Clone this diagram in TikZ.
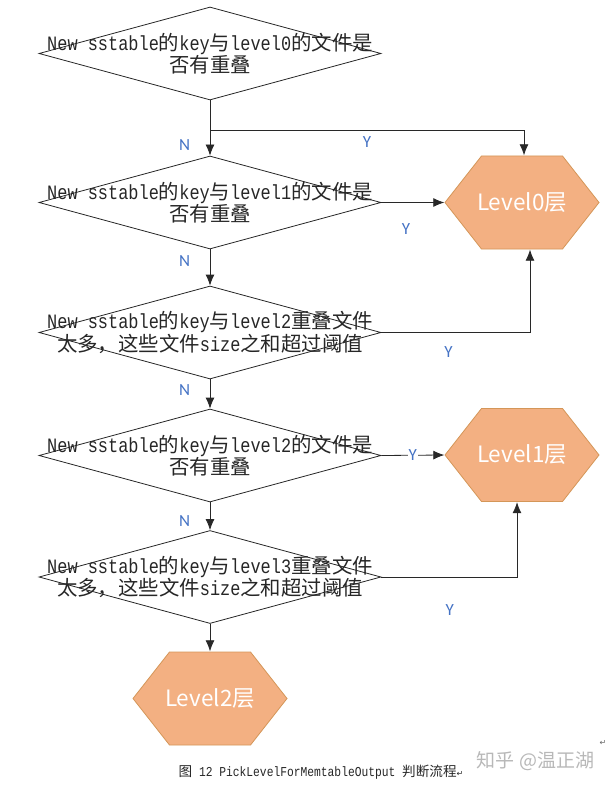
\documentclass[tikz,border=0pt]{standalone}
\usepackage{fontspec}
\usetikzlibrary{shapes.geometric,arrows.meta}
\newfontfamily\boxfont{Liberation Mono}[FakeStretch=0.83]
\newfontfamily\cjkfont{Noto Sans CJK SC}
\newfontfamily\ynfont{Carlito}
\newfontfamily\symfont{DejaVu Sans}
\newcommand{\zhs}[1]{{\cjkfont #1}}
\definecolor{linegray}{RGB}{40,40,40}
\definecolor{hexfill}{RGB}{243,176,130}
\definecolor{hexedge}{RGB}{212,150,88}
\definecolor{ynblue}{RGB}{68,114,196}
\tikzset{
	decision/.style={diamond,draw=black!85,line width=0.8pt,minimum width=342pt,minimum height=93pt,inner sep=0pt},
	boxtext/.style={align=center,inner sep=0pt,text=black!85,font=\boxfont\fontsize{20.4}{21}\selectfont},
	hexa/.style={minimum width=155pt,minimum height=94pt,inner sep=0pt,text=white,
		font=\cjkfont\fontsize{22.5}{26}\selectfont,
		path picture={\filldraw[fill=hexfill,draw=hexedge,line width=0.8pt]
			([xshift=0.5pt]path picture bounding box.west)
			-- ([xshift=37pt,yshift=-0.5pt]path picture bounding box.north west)
			-- ([xshift=-37pt,yshift=-0.5pt]path picture bounding box.north east)
			-- ([xshift=-0.5pt]path picture bounding box.east)
			-- ([xshift=-37pt,yshift=0.5pt]path picture bounding box.south east)
			-- ([xshift=37pt,yshift=0.5pt]path picture bounding box.south west)
			-- cycle;}},
	arr/.style={draw=linegray,line width=0.8pt,-{Latex[length=11pt,width=9pt]}},
	yn/.style={text=ynblue,inner sep=1pt,font=\ynfont\fontsize{17}{17}\selectfont}
}
\begin{document}
\begin{tikzpicture}[x=1pt,y=-1pt]
	\useasboundingbox (0,0) rectangle (608,786);
	\foreach \i/\y in {1/53.5,2/202.5,3/332.5,4/455.5,5/577}{
		\node[decision] (d\i) at (210,\y) {};
	}
	\node[boxtext] (t1) at (d1) {New sstable\zhs{的}key\zhs{与}level0\zhs{的文件是}\\\zhs{否有重叠}};
	\node[boxtext] (t2) at (d2) {New sstable\zhs{的}key\zhs{与}level1\zhs{的文件是}\\\zhs{否有重叠}};
	\node[boxtext] (t3) at (d3) {New sstable\zhs{的}key\zhs{与}level2\zhs{重叠文件}\\\zhs{太多，这些文件}size\zhs{之和超过阈值}};
	\node[boxtext] (t4) at (d4) {New sstable\zhs{的}key\zhs{与}level2\zhs{的文件是}\\\zhs{否有重叠}};
	\node[boxtext] (t5) at (d5) {New sstable\zhs{的}key\zhs{与}level3\zhs{重叠文件}\\\zhs{太多，这些文件}size\zhs{之和超过阈值}};
	\node[hexa] (h0) at (522,202.5) {Level0层};
	\node[hexa] (h1) at (522,455) {Level1层};
	\node[hexa] (h2) at (210,698.5) {Level2层};
	\coordinate (split) at (210,130);
	\foreach \a/\b in {d1/d2,d2/d3,d3/d4,d4/d5}{
		\draw[arr] (\a.south) -- (\b.north);
	}
	\draw[arr] (split) -| ([xshift=2pt]h0.north);
	\draw[arr] (d2.east) -- (h0.west);
	\draw[arr] (d3.east) -| ([xshift=8pt]h0.south);
	\draw[arr] (d4.east) -- node[yn,fill=white,pos=0.5] (y4) {Y} (h1.west);
	\draw[arr] (d5.east) -| ([xshift=-5pt]h1.south);
	\draw[arr] (d5.south) -- (h2.north);
	\foreach \i/\y in {1/145,2/261,3/390,4/520.7}{
		\node[yn] (n\i) at (184.6,\y) {N};
	}
	\node[yn] (y1) at (367,141.7) {Y};
	\node[yn] (y2) at (406,229) {Y};
	\node[yn] (y3) at (448.6,351.7) {Y};
	\node[yn] (y5) at (449.8,610) {Y};
	\node[text=black!28,font=\cjkfont\fontsize{19}{19}\selectfont] (mark) at (535.5,761.5) {知乎 @温正湖};
	\node[text=black!60,font=\symfont\fontsize{8}{8}\selectfont] (ret) at (603,743) {↵};
	\node[text=black!85,font=\boxfont\fontsize{13.6}{14}\selectfont] (cap) at (321,772.5)
		{\zhs{图} 12 PickLevelForMemtableOutput \zhs{判断流程}{\symfont\fontsize{8}{8}\selectfont ↵}};
\end{tikzpicture}
\end{document}
